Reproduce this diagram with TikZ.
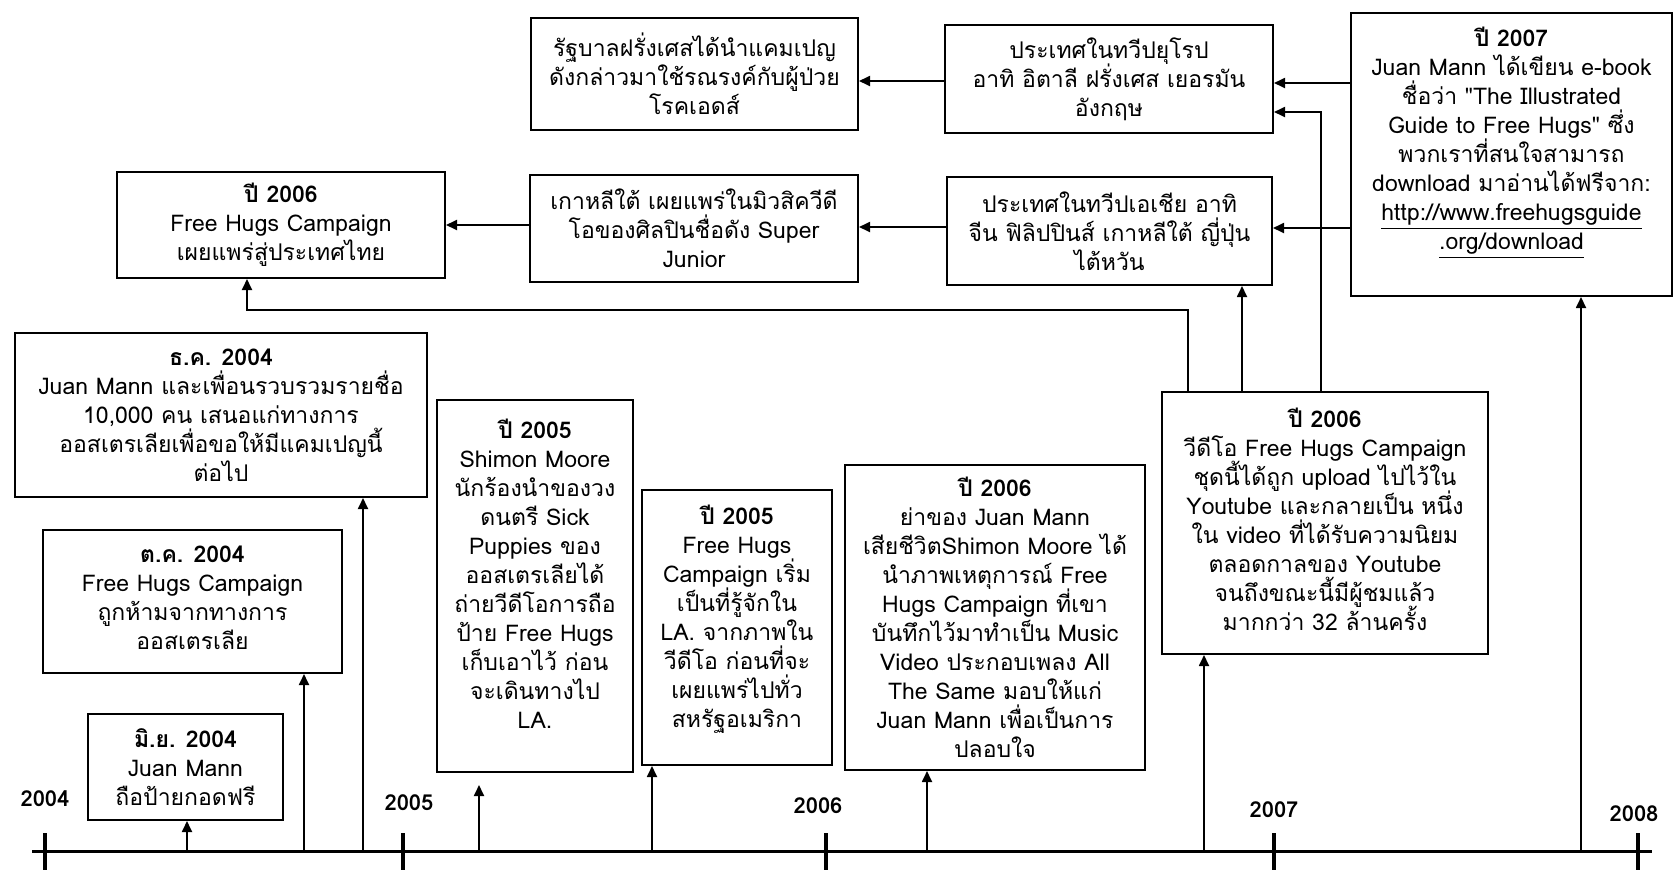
\documentclass[tikz,border=0pt]{standalone}
\usepackage{fontspec}
\newfontfamily\thaifont[Script=Thai]{Loma}
\usetikzlibrary{arrows.meta}
\setlength{\lineskiplimit}{-20pt}
\setlength{\lineskip}{0pt}
\begin{document}
\begin{tikzpicture}[x=0.5pt,y=-0.5pt,
  box/.style={draw, line width=1pt, inner sep=0pt, fill=white},
  txt/.style={align=center, inner sep=0pt,
    font=\thaifont\fontsize{11.5}{14.5}\selectfont},
  conn/.style={line width=0.9pt, -{Triangle[length=5.5pt,width=5pt]}},
  tick/.style={line width=2pt},
  yr/.style={font=\thaifont\bfseries\fontsize{11}{13}\selectfont, inner sep=0pt}]
\useasboundingbox (0,0) rectangle (1675,873);
\fill[white] (0,0) rectangle (1675,873);

% boxes
\node[box, minimum width=327*0.5pt, minimum height=112*0.5pt] (A) at (694.5,74) {};
\node[box, minimum width=328*0.5pt, minimum height=108*0.5pt] (B) at (1109,79) {};
\node[box, minimum width=321*0.5pt, minimum height=283*0.5pt] (C) at (1511.5,154.5) {};
\node[box, minimum width=328*0.5pt, minimum height=106*0.5pt] (D) at (281,225) {};
\node[box, minimum width=328*0.5pt, minimum height=107*0.5pt] (E) at (694,228.5) {};
\node[box, minimum width=325*0.5pt, minimum height=108*0.5pt] (F) at (1109.5,231) {};
\node[box, minimum width=412*0.5pt, minimum height=164*0.5pt] (G) at (221,415) {};
\node[box, minimum width=299*0.5pt, minimum height=143*0.5pt] (H) at (192.5,601.5) {};
\node[box, minimum width=195*0.5pt, minimum height=106*0.5pt] (I) at (185.5,767) {};
\node[box, minimum width=196*0.5pt, minimum height=372*0.5pt] (J) at (535,586) {};
\node[box, minimum width=190*0.5pt, minimum height=275*0.5pt] (K) at (737,627.5) {};
\node[box, minimum width=300*0.5pt, minimum height=305*0.5pt] (L) at (995,617.5) {};
\node[box, minimum width=326*0.5pt, minimum height=262*0.5pt] (M) at (1325,523) {};

% texts
\node[txt] (At) at (A) {รัฐบาลฝรั่งเศสได้นำแคมเปญ\\ดังกล่าวมาใช้รณรงค์กับผู้ป่วย\\โรคเอดส์};
\node[txt] (Bt) at (B) {ประเทศในทวีปยุโรป\\อาทิ อิตาลี ฝรั่งเศส เยอรมัน\\อังกฤษ};
\node[txt] (Ct) at ([yshift=6pt]C.center) {{\bfseries ปี 2007}\\Juan Mann ได้เขียน e-book\\ชื่อว่า "The Illustrated\\Guide to Free Hugs" ซึ่ง\\พวกเราที่สนใจสามารถ\\download มาอ่านได้ฟรีจาก:\\\underline{http://www.freehugsguide}\\\underline{.org/download}};
\node[txt] (Dt) at (D) {{\bfseries ปี 2006}\\Free Hugs Campaign\\เผยแพร่สู่ประเทศไทย};
\node[txt] (Et) at (E) {เกาหลีใต้ เผยแพร่ในมิวสิควีดี\\โอของศิลปินชื่อดัง Super\\Junior};
\node[txt] (Ft) at (F) {ประเทศในทวีปเอเชีย อาทิ\\จีน ฟิลิปปินส์ เกาหลีใต้ ญี่ปุ่น\\ไต้หวัน};
\node[txt] (Gt) at (G) {{\bfseries ธ.ค. 2004}\\Juan Mann และเพื่อนรวบรวมรายชื่อ\\10,000 คน เสนอแก่ทางการ\\ออสเตรเลียเพื่อขอให้มีแคมเปญนี้\\ต่อไป};
\node[txt] (Ht) at ([yshift=2pt]H.center) {{\bfseries ต.ค. 2004}\\Free Hugs Campaign\\ถูกห้ามจากทางการ\\ออสเตรเลีย};
\node[txt] (It) at (I) {{\bfseries มิ.ย. 2004}\\Juan Mann\\ถือป้ายกอดฟรี};
\node[txt] (Jt) at ([yshift=6pt]J.center) {{\bfseries ปี 2005}\\Shimon Moore\\นักร้องนำของวง\\ดนตรี Sick\\Puppies ของ\\ออสเตรเลียได้\\ถ่ายวีดีโอการถือ\\ป้าย Free Hugs\\เก็บเอาไว้ ก่อน\\จะเดินทางไป\\LA.};
\node[txt] (Kt) at ([yshift=4pt]K.center) {{\bfseries ปี 2005}\\Free Hugs\\Campaign เริ่ม\\เป็นที่รู้จักใน\\LA. จากภาพใน\\วีดีโอ ก่อนที่จะ\\เผยแพร่ไปทั่ว\\สหรัฐอเมริกา};
\node[txt] (Lt) at (L) {{\bfseries ปี 2006}\\ย่าของ Juan Mann\\เสียชีวิตShimon Moore ได้\\นำภาพเหตุการณ์ Free\\Hugs Campaign ที่เขา\\บันทึกไว้มาทำเป็น Music\\Video ประกอบเพลง All\\The Same มอบให้แก่\\Juan Mann เพื่อเป็นการ\\ปลอบใจ};
\node[txt] (Mt) at ([yshift=2pt]M.center) {{\bfseries ปี 2006}\\วีดีโอ Free Hugs Campaign\\ชุดนี้ได้ถูก upload ไปไว้ใน\\Youtube และกลายเป็น หนึ่ง\\ใน video ที่ได้รับความนิยม\\ตลอดกาลของ Youtube\\จนถึงขณะนี้มีผู้ชมแล้ว\\มากกว่า 32 ล้านครั้ง};

% timeline
\coordinate (tl0) at (32,851);
\coordinate (tl1) at (1652,851);
\draw[line width=1.5pt] (tl0) -- (tl1);
\foreach \x in {45,403,826,1274,1638} \draw[tick] (\x,833) -- (\x,870);
\node[yr] (y2004) at (45,799) {2004};
\node[yr] (y2005) at (409,803) {2005};
\node[yr] (y2006) at (818,806) {2006};
\node[yr] (y2007) at (1274,810) {2007};
\node[yr] (y2008) at (1634,814) {2008};

% arrows from timeline
\draw[conn] (187,0 |- tl0) -- (187,0 |- I.south);
\draw[conn] (304,0 |- tl0) -- (304,0 |- H.south);
\draw[conn] (363,0 |- tl0) -- (363,0 |- G.south);
\coordinate (Jb) at (479,785);
\draw[conn] (479,0 |- tl0) -- (Jb);
\draw[conn] (652,0 |- tl0) -- (652,0 |- K.south);
\draw[conn] (927,0 |- tl0) -- (927,0 |- L.south);
\draw[conn] (1204,0 |- tl0) -- (1204,0 |- M.south);
\draw[conn] (1581,0 |- tl0) -- (1581,0 |- C.south);

% upper connectors
\draw[conn] (1188,0 |- M.north) |- (247,310) -- (247,0 |- D.south);
\draw[conn] (1242,0 |- M.north) -- (1242,0 |- F.south);
\draw[conn] (1321,0 |- M.north) |- (B.east |- 0,112);
\draw[conn] (C.west |- 0,83) -- (B.east |- 0,83);
\draw[conn] (C.west |- 0,228) -- (F.east |- 0,228);
\draw[conn] (B.west |- 0,81) -- (A.east |- 0,81);
\draw[conn] (F.west |- 0,227) -- (E.east |- 0,227);
\draw[conn] (E.west |- 0,225) -- (D.east |- 0,225);
\end{tikzpicture}
\end{document}
